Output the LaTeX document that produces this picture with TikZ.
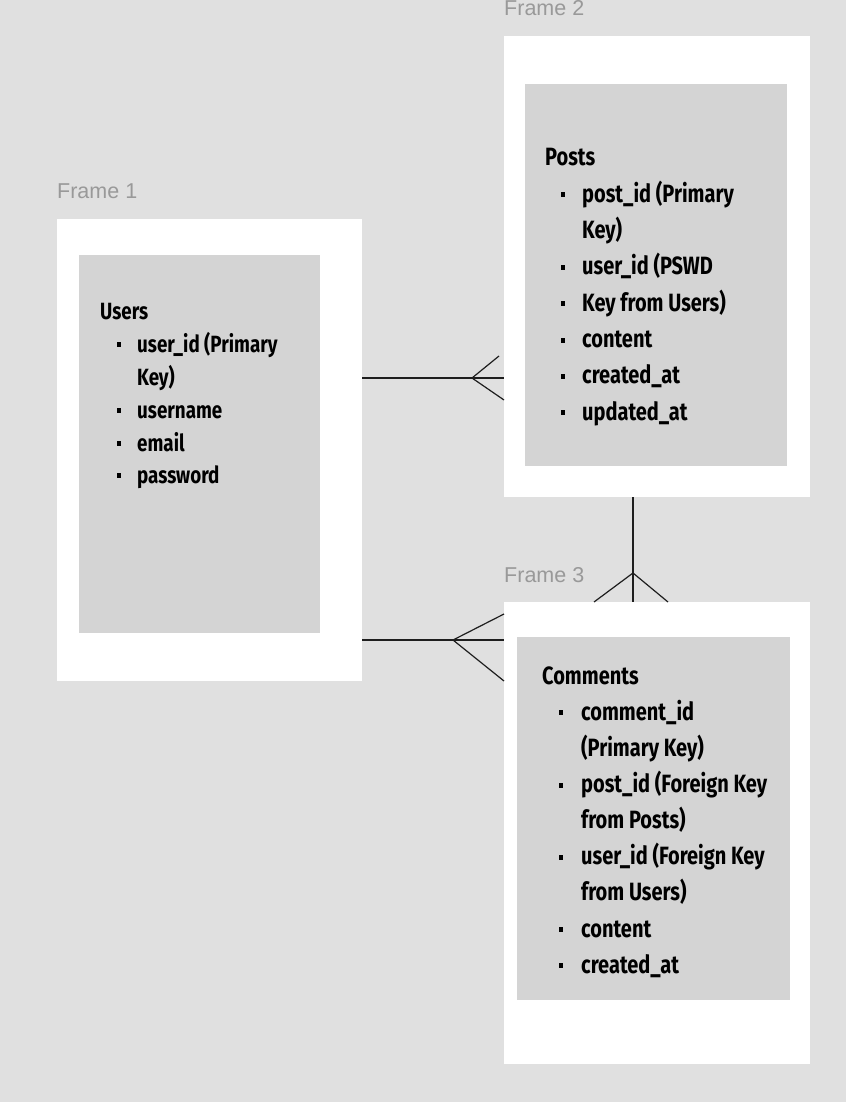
\documentclass[tikz,border=0pt]{standalone}
\usepackage{fontspec}
\newfontfamily\tblfont[FakeStretch=0.8]{Fira Sans}
\newfontfamily\lblfont{Liberation Sans}
\definecolor{bgc}{HTML}{E0E0E0}
\definecolor{innerc}{HTML}{D4D4D4}
\definecolor{lblc}{HTML}{999999}
\definecolor{linec}{HTML}{1E1E1E}
\tikzset{
  framebox/.style={fill=white, draw=none, inner sep=0, anchor=north west},
  innerbox/.style={fill=innerc, draw=none, inner sep=0, anchor=north west},
  framelbl/.style={anchor=base west, inner sep=0, text=lblc, font=\lblfont\fontsize{21.5}{26}\selectfont},
  tbltext/.style={anchor=base west, inner sep=0, text=black, font=\tblfont\bfseries\fontsize{25}{30}\selectfont},
  usrtext/.style={anchor=base west, inner sep=0, text=black, font=\tblfont\bfseries\fontsize{23.5}{28}\selectfont},
  conn/.style={draw=linec, line width=1.2pt},
}
\newcommand\brow[6]{% style, name, bullet x, text x, baseline, text
  \fill[black] (#3-2,#5-10) rectangle (#3+2,#5-5);
  \node[#1] (#2) at (#4,#5) {#6};}
\begin{document}
\begin{tikzpicture}[x=1pt,y=-1pt]
\fill[bgc] (0,0) rectangle (846,1102);
\useasboundingbox (0,0) rectangle (846,1102);

% frames
\node[framebox, minimum width=305pt, minimum height=462pt] (f1) at (57,219) {};
\node[framebox, minimum width=306pt, minimum height=461pt] (f2) at (504,36) {};
\node[framebox, minimum width=306pt, minimum height=462pt] (f3) at (504,602) {};
\node[innerbox, minimum width=241pt, minimum height=378pt] (ub) at (79,255) {};
\node[innerbox, minimum width=262pt, minimum height=382pt] (pb) at (525,84) {};
\node[innerbox, minimum width=273pt, minimum height=363pt] (cb) at (517,637) {};

% frame labels
\node[framelbl] (l1) at (57,199) {Frame 1};
\node[framelbl] (l2) at (504,16) {Frame 2};
\node[framelbl] (l3) at (504,582) {Frame 3};

% Users
\node[usrtext] (u0) at (100,319) {Users};
\brow{usrtext}{u1}{119}{137}{352}{user\_id (Primary}
\node[usrtext] (u2) at (137,385) {Key)};
\brow{usrtext}{u3}{119}{137}{418}{username}
\brow{usrtext}{u4}{119}{137}{451}{email}
\brow{usrtext}{u5}{119}{137}{483}{password}

% Posts
\node[tbltext] (p0) at (545,166) {Posts};
\brow{tbltext}{p1}{563}{582}{202.3}{post\_id (Primary}
\node[tbltext] (p2) at (582,238.6) {Key)};
\brow{tbltext}{p3}{563}{582}{274.9}{user\_id (PSWD}
\brow{tbltext}{p4}{563}{582}{311.2}{Key from Users)}
\brow{tbltext}{p5}{563}{582}{347.5}{content}
\brow{tbltext}{p6}{563}{582}{383.8}{created\_at}
\brow{tbltext}{p7}{563}{582}{420}{updated\_at}

% Comments
\node[tbltext] (c0) at (542,684) {Comments};
\brow{tbltext}{c1}{561}{581}{720}{comment\_id}
\node[tbltext] (c2) at (581,756) {(Primary Key)};
\brow{tbltext}{c3}{561}{581}{792.5}{post\_id (Foreign Key}
\node[tbltext] (c4) at (581,828.5) {from Posts)};
\brow{tbltext}{c5}{561}{581}{864.5}{user\_id (Foreign Key}
\node[tbltext] (c6) at (581,900.7) {from Users)};
\brow{tbltext}{c7}{561}{581}{937}{content}
\brow{tbltext}{c8}{561}{581}{973}{created\_at}

% connector Users - Posts
\coordinate (j1) at (472,378);
\coordinate (j1a) at (499,356);
\coordinate (j1b) at (504,400);
\draw[conn] (f1.east |- j1) -- (j1) -- (f2.west |- j1);
\draw[conn] (j1a) -- (j1) -- (j1b);

% connector Users - Comments
\coordinate (j2) at (453,640);
\coordinate (j2a) at (504,614);
\coordinate (j2b) at (504,681);
\draw[conn] (f1.east |- j2) -- (j2) -- (f3.west |- j2);
\draw[conn] (j2a) -- (j2) -- (j2b);

% connector Posts - Comments
\coordinate (j3) at (633,573);
\coordinate (j3a) at (594,602);
\coordinate (j3b) at (668,602);
\draw[conn] (f2.south -| j3) -- (j3) -- (f3.north -| j3);
\draw[conn] (j3a) -- (j3) -- (j3b);
\end{tikzpicture}
\end{document}
